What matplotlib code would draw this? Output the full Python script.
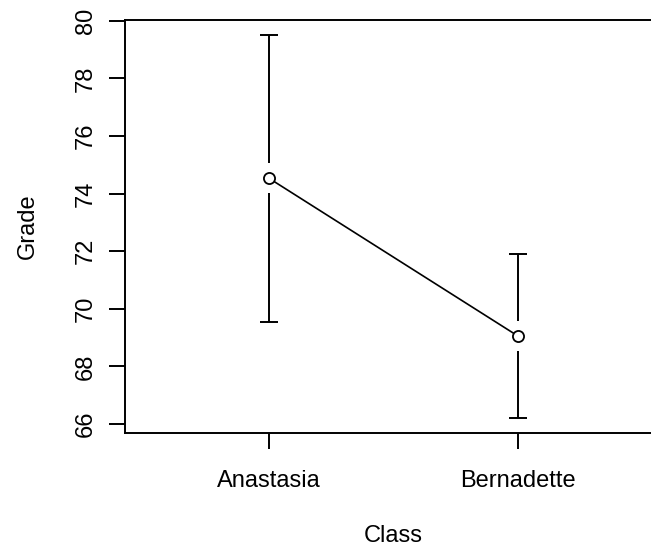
import matplotlib
matplotlib.use("Agg")
import matplotlib.pyplot as plt
import numpy as np

plt.rcParams["font.family"] = ["Liberation Sans", "DejaVu Sans"]

classes = ["Anastasia", "Bernadette"]
means = [74.53, 69.06]
ci_lower = [69.55, 66.21]
ci_upper = [79.51, 71.91]
yticks = [66, 68, 70, 72, 74, 76, 78, 80]

fig = plt.figure(figsize=(6.51, 5.47), dpi=100)
# right edge of the box falls just outside the picture, as in the reference
ax = fig.add_axes([125 / 651, 1 - 433 / 547, (662 - 125) / 651, (433 - 20) / 547])

x = np.arange(1, len(classes) + 1)
ax.set_xlim(0.42, 2.58)
ax.set_ylim(65.69, 80.03)

lw = 1.4
# gap of ~15 px around each mean, converted to data units
px_per_unit = (433 - 20) / (80.03 - 65.69)
gap = 15 / px_per_unit

ax.plot(x, means, color="black", lw=1.2, marker="o", ms=8, mfc="white",
        mec="black", mew=1.3, zorder=3)
ax.vlines(x, np.array(means) + gap, ci_upper, color="black", lw=lw)
ax.vlines(x, ci_lower, np.array(means) - gap, color="black", lw=lw)
ax.plot(x, ci_upper, ls="none", marker="_", ms=13, mew=lw, color="black")
ax.plot(x, ci_lower, ls="none", marker="_", ms=13, mew=lw, color="black")

for s in ax.spines.values():
    s.set_linewidth(lw)

fs = 17
ax.set_xticks(x)
ax.set_xticklabels(classes, fontsize=fs)
ax.set_yticks(yticks)
ax.set_yticklabels([str(v) for v in yticks], fontsize=fs, rotation=90, va="center")
ax.tick_params(axis="both", direction="out", length=11.5, width=lw)
ax.tick_params(axis="x", pad=15)
ax.tick_params(axis="y", pad=9)

ax.set_xlabel("Class", fontsize=fs, labelpad=24)
ax.set_ylabel("Grade", fontsize=fs, labelpad=26)

fig.savefig("out.png", dpi=100)
